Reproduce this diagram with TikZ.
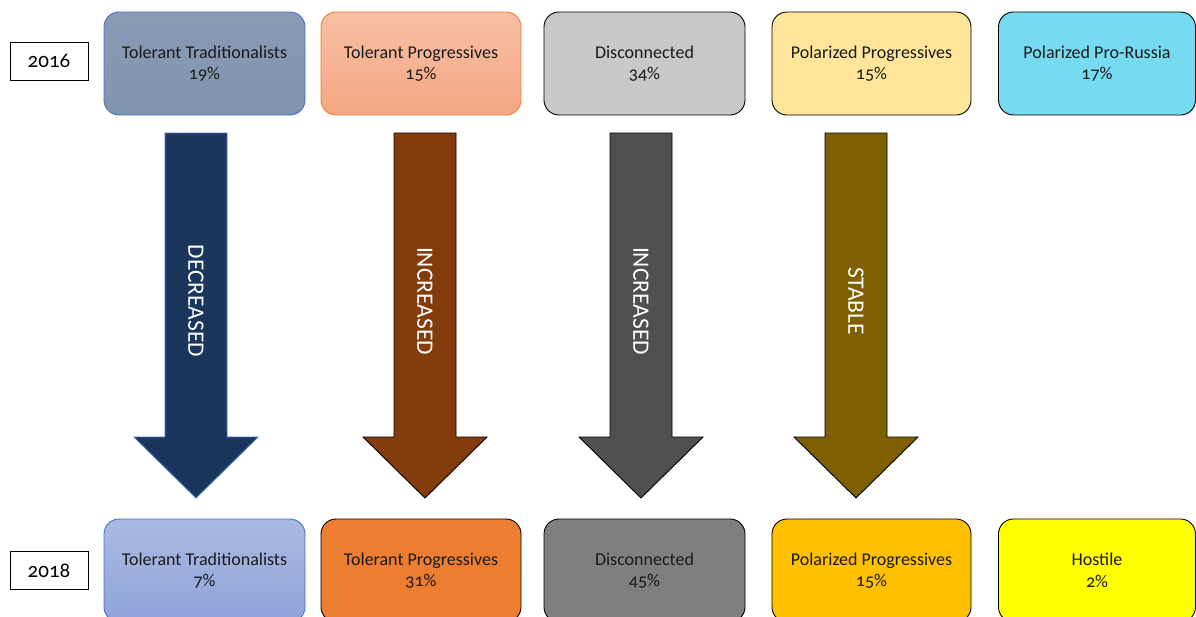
\documentclass[tikz,border=0pt]{standalone}
\usepackage{fontspec}
\setmainfont{Carlito}[Numbers=OldStyle]
\definecolor{tAtop}{HTML}{8A9BB4}
\definecolor{tAbot}{HTML}{8094AE}
\definecolor{tBtop}{HTML}{F7C0A6}
\definecolor{tBbot}{HTML}{F4A683}
\definecolor{tC}{HTML}{C8C8C8}
\definecolor{tD}{HTML}{FEE599}
\definecolor{tE}{HTML}{76DAF1}
\definecolor{bAtop}{HTML}{AAB9E1}
\definecolor{bAbot}{HTML}{8DA3D9}
\definecolor{bB}{HTML}{ED7D31}
\definecolor{bC}{HTML}{7F7F7F}
\definecolor{bD}{HTML}{FFC000}
\definecolor{bE}{HTML}{FFFF00}
\definecolor{blueline}{HTML}{4472C4}
\definecolor{orangeline}{HTML}{ED7D31}
\definecolor{arA}{HTML}{1A365C}
\definecolor{arB}{HTML}{843C0C}
\definecolor{arC}{HTML}{505050}
\definecolor{arD}{HTML}{7F6000}
\definecolor{txt}{HTML}{1A1A1A}
\tikzset{
  seg/.style={rounded corners=15pt, minimum width=200pt, minimum height=103pt,
    align=center, font=\fontsize{18}{21.5}\selectfont, text=txt, line width=0.9pt, inner sep=0pt},
  yearbox/.style={draw=black, line width=0.8pt, minimum width=78pt, minimum height=38pt,
    font=\fontsize{21}{24}\selectfont, inner sep=0pt},
  fatarrow/.style={line width=0.9pt, line join=miter},
  arrowlabel/.style={rotate=-90, text=white, font=\fontsize{23.5}{26}\selectfont, inner sep=0pt}
}
\usetikzlibrary{calc}
\newcommand{\fatarrowdraw}[5]{%
  % #1 center x, #2 fill, #3 draw, #4 label, #5 name
  \coordinate (#5top) at (#1,133);
  \draw[fatarrow, fill=#2, draw=#3]
    ($(#5top)+(-31,0)$) -- ($(#5top)+(31,0)$) -- ($(#5top)+(31,304)$) -- ($(#5top)+(62,304)$)
    -- ($(#5top)+(0,365)$) -- ($(#5top)+(-62,304)$) -- ($(#5top)+(-31,304)$) -- cycle;
  \node[arrowlabel] (#5lab) at ($(#5top)+(0,168)$) {#4};
}
\begin{document}
\begin{tikzpicture}[x=1pt, y=-1pt]
\useasboundingbox (0,0) rectangle (1196,616);
\clip (0,0) rectangle (1196,616);
\fill[white] (0,0) rectangle (1196,616);

\node[yearbox] (y16) at (49,61) {2016};
\node[yearbox] (y18) at (49,570.5) {2018};

\node[seg, draw=blueline, top color=tAtop, bottom color=tAbot, minimum width=201pt] (t1) at (204.5,63.5) {Tolerant Traditionalists\\19\%};
\node[seg, draw=orangeline, top color=tBtop, bottom color=tBbot] (t2) at (421,63.5) {Tolerant Progressives\\15\%};
\node[seg, draw=black, fill=tC, minimum width=201pt] (t3) at (644.5,63.5) {Disconnected\\34\%};
\node[seg, draw=black, fill=tD, minimum width=199pt] (t4) at (871.5,63.5) {Polarized Progressives\\15\%};
\node[seg, draw=black, fill=tE, minimum width=197pt] (t5) at (1097,63.5) {Polarized Pro-Russia\\17\%};

\node[seg, draw=blueline, top color=bAtop, bottom color=bAbot, minimum width=201pt] (b1) at (204.5,570.5) {Tolerant Traditionalists\\7\%};
\node[seg, draw=black, fill=bB] (b2) at (421,570.5) {Tolerant Progressives\\31\%};
\node[seg, draw=black, fill=bC, minimum width=201pt] (b3) at (644.5,570.5) {Disconnected\\45\%};
\node[seg, draw=black, fill=bD, minimum width=199pt] (b4) at (871.5,570.5) {Polarized Progressives\\15\%};
\node[seg, draw=black, fill=bE, minimum width=197pt] (b5) at (1097,570.5) {Hostile\\2\%};

\fatarrowdraw{196}{arA}{blueline}{DECREASED}{a1}
\fatarrowdraw{425}{arB}{black}{INCREASED}{a2}
\fatarrowdraw{641}{arC}{black}{INCREASED}{a3}
\fatarrowdraw{856}{arD}{black}{STABLE}{a4}
\end{tikzpicture}
\end{document}
